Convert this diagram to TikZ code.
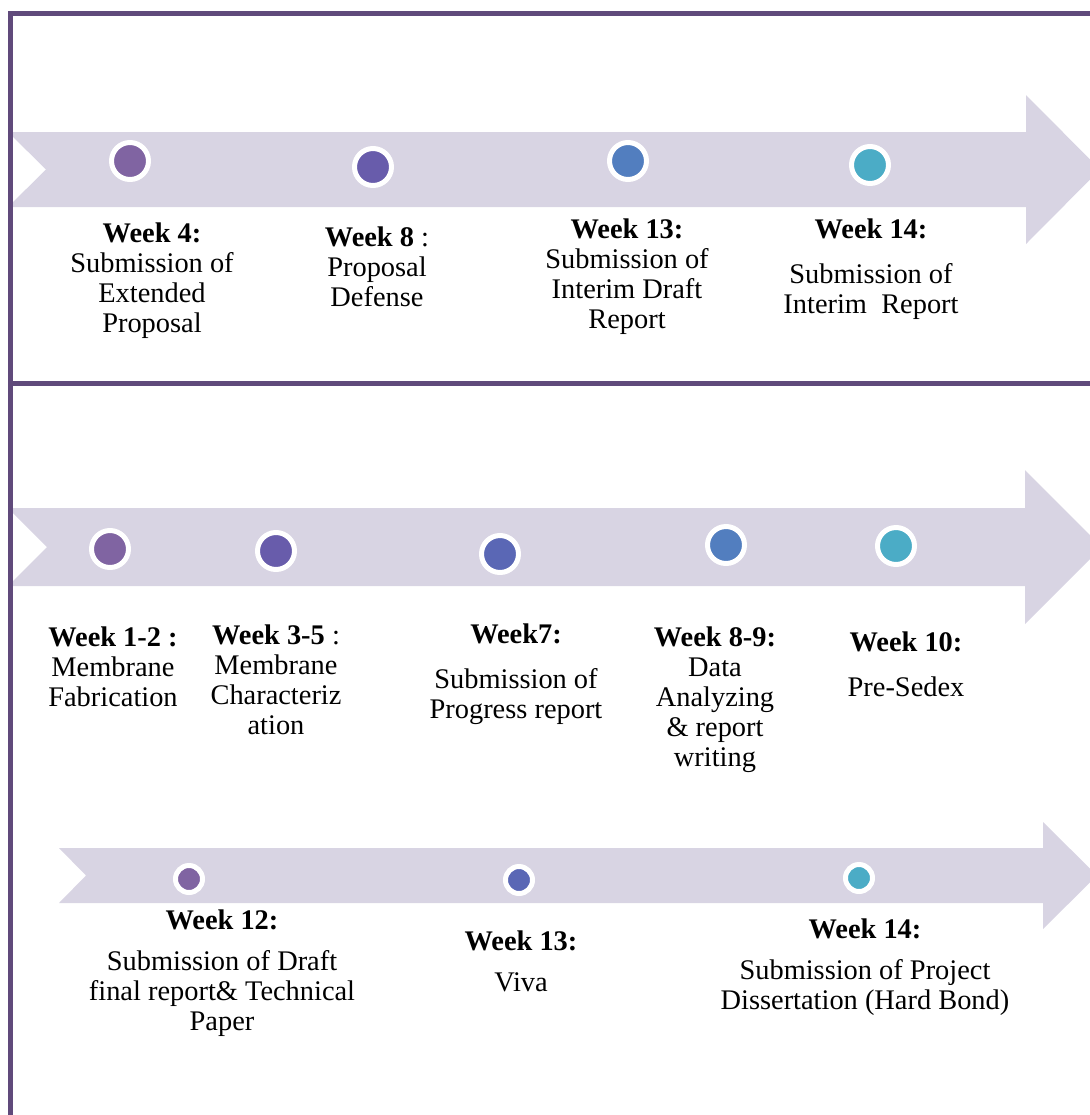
\documentclass[tikz,border=0pt]{standalone}
\usepackage{fontspec}
\setmainfont{Liberation Serif}
\usepackage{tikz}
\usetikzlibrary{positioning,calc}
\definecolor{tlframe}{RGB}{96,74,123}
\definecolor{tlband}{RGB}{216,212,227}
\definecolor{tlpurple}{RGB}{128,100,162}
\definecolor{tlviolet}{RGB}{104,92,171}
\definecolor{tlindigo}{RGB}{90,103,181}
\definecolor{tlblue}{RGB}{82,126,191}
\definecolor{tlteal}{RGB}{75,172,198}

\begin{document}
\begin{tikzpicture}[
      x=0.5pt, y=-0.5pt,
      frame/.style={draw=tlframe, line width=2.5pt},
      band/.style={fill=tlband},
      dot/.style={circle, draw=white, line width=2.5pt, minimum size=18.5pt, inner sep=0pt},
      smalldot/.style={dot, minimum size=13.5pt},
      lbl/.style={anchor=north, align=center, inner sep=0pt,
        font=\fontsize{14.2}{15}\selectfont}
    ]
    \useasboundingbox (0,0) rectangle (1090,1115);
    % ---------------- arrows ----------------
    \fill[band] (8,132) -- (1026,132) -- (1026,95) -- (1100,169.5) -- (1026,244)
      -- (1026,207) -- (8,207) -- (46,169.5) -- cycle;
    \fill[band] (8,508) -- (1025,508) -- (1025,470) -- (1102,547) -- (1025,624)
      -- (1025,586) -- (8,586) -- (47,547) -- cycle;
    \fill[band] (59,848) -- (1043,848) -- (1043,822) -- (1097,875.5) -- (1043,929)
      -- (1043,903) -- (59,903) -- (86,875.5) -- cycle;
    % ---------------- frame ----------------
    \draw[frame] (10,1120) -- (10,13) -- (1095,13);
    \draw[frame] (10,383) -- (1095,383);
    % ---------------- row 1 ----------------
    \node[dot, fill=tlpurple] (a1) at (130,161) {};
    \node[dot, fill=tlviolet] (a2) at (373,167) {};
    \node[dot, fill=tlblue] (a3) at (628,161) {};
    \node[dot, fill=tlteal] (a4) at (870,165) {};
    \node[lbl] (ta1) at (152,222) {\textbf{Week 4:}\\Submission of\\Extended\\Proposal};
    \node[lbl] (ta2) at (377,226) {\textbf{Week 8} :\\Proposal\\Defense};
    \node[lbl] (ta3) at (627,218) {\textbf{Week 13:}\\Submission of\\Interim Draft\\Report};
    \node[lbl] (ta4) at (871,218) {\textbf{Week 14:}\\[7.5pt]Submission of\\Interim\ \ Report};
    % ---------------- row 2 ----------------
    \node[dot, fill=tlpurple] (b1) at (110,549) {};
    \node[dot, fill=tlviolet] (b2) at (276,551) {};
    \node[dot, fill=tlindigo] (b3) at (500,554) {};
    \node[dot, fill=tlblue] (b4) at (726,545) {};
    \node[dot, fill=tlteal] (b5) at (896,546) {};
    \node[lbl] (tb1) at (113,626) {\textbf{Week 1-2 :}\\Membrane\\Fabrication};
    \node[lbl] (tb2) at (276,624) {\textbf{Week 3-5} :\\Membrane\\Characteriz\\ation};
    \node[lbl] (tb3) at (516,623) {\textbf{Week7:}\\[7.5pt]Submission of\\Progress report};
    \node[lbl] (tb4) at (715,626) {\textbf{Week 8-9:}\\Data\\Analyzing\\\& report\\writing};
    \node[lbl] (tb5) at (906,631) {\textbf{Week 10:}\\[7.5pt]Pre-Sedex};
    % ---------------- row 3 ----------------
    \node[smalldot, fill=tlpurple] (c1) at (189,879) {};
    \node[smalldot, fill=tlindigo] (c2) at (519,880) {};
    \node[smalldot, fill=tlteal] (c3) at (859,878) {};
    \node[lbl] (tc1) at (222,909) {\textbf{Week 12:}\\[5.5pt]Submission of Draft\\final report\& Technical\\Paper};
    \node[lbl] (tc2) at (521,930) {\textbf{Week 13:}\\[5.5pt]Viva};
    \node[lbl] (tc3) at (865,918) {\textbf{Week 14:}\\[5.5pt]Submission of Project\\Dissertation (Hard Bond)};
  \end{tikzpicture}
\end{document}
